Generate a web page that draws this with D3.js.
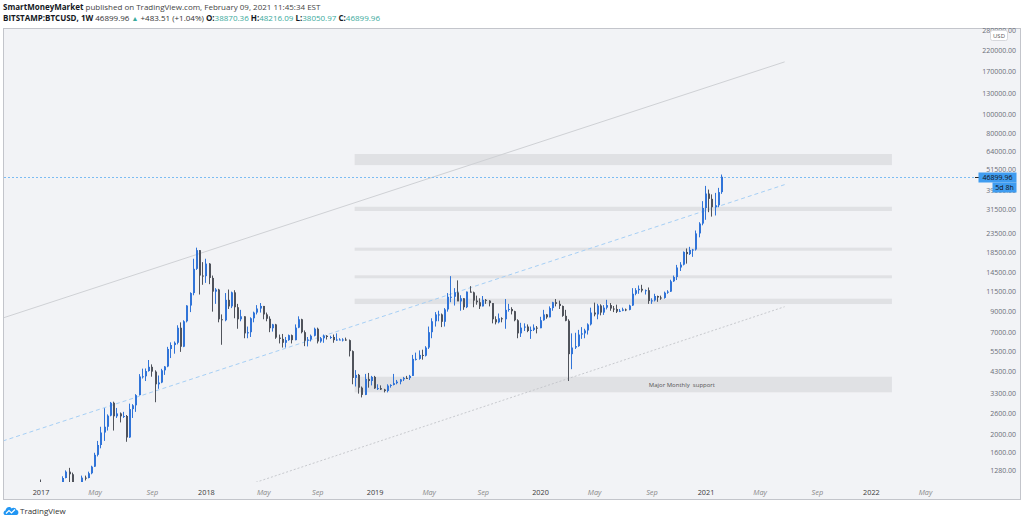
<!DOCTYPE html>
<html><head><meta charset="utf-8">
<script src="https://cdn.jsdelivr.net/npm/d3@7"></script>
<style>
body{margin:0;background:#fff;}
svg{display:block;font-family:"Open Sans",sans-serif;}
</style>
</head><body>
<svg id="c" width="1024" height="521"></svg>
<script>
// ---------------- DATA ----------------
const firstWeek = "2017-01-02"; // weekly bars, Monday open
// [open, high, low, close] per week
const ohlc2017 = [
[963,1153,812,908],[908,911,751,821],[821,935,813,921],[921,930,885,914],[914,1030,912,1017],
[1017,1070,946,999],[999,1065,975,1050],[1050,1200,1050,1175],[1175,1290,1170,1270],[1270,1330,1100,1230],
[1230,1255,950,1020],[1020,1075,890,965],[965,1105,930,1090],[1090,1210,1080,1180],[1180,1210,1140,1175],
[1175,1270,1170,1245],[1245,1365,1230,1350],[1350,1600,1345,1560],[1560,1850,1530,1760],[1760,2200,1690,2050],
[2050,2760,1850,2200],[2200,2560,2100,2520],[2520,2980,2500,2950],[2950,2990,2100,2500],[2500,2770,2450,2590],
[2590,2620,2320,2500],[2500,2640,2450,2510],[2510,2540,1830,1930],[1930,2920,1920,2730],[2730,2900,2450,2860],
[2860,3280,2640,3240],[3240,4190,3230,4070],[4070,4480,3970,4080],[4080,4490,3850,4350],[4350,4980,4320,4580],
[4580,4720,4060,4320],[4320,4390,2970,3700],[3700,4120,3500,3780],[3780,4470,3750,4390],[4390,4620,4150,4600],
[4600,5850,4560,5700],[5700,6180,5100,5980],[5980,6250,5380,6150],[6150,7620,6030,7390],[7390,7890,5500,5860],
[5860,8100,5830,8000],[8000,9740,7890,9700],[9700,11400,8950,11300],[11300,17200,11000,15200],[15200,19700,15000,19100],
[19100,19100,11100,14000],[14000,16500,12500,13900]
];
const ohlc2018 = [
[13900,17200,12800,16200],[16200,16300,12600,13600],[13600,14000,9000,11500],[11500,12000,9900,11800],[11800,11900,7900,8200],
[8200,8700,6000,8100],[8100,11300,8000,10400],[10400,11800,9300,9600],[9600,11500,9400,11400],[11400,11700,8300,9500],
[9500,9900,7300,8200],[8200,9200,8000,8500],[8500,8500,6500,6900],[6900,7500,6500,7000],[7000,8400,6600,8300],
[8300,9000,7900,8900],[8900,9750,8700,9350],[9350,10000,8900,9650],[9650,9650,8200,8700],[8700,8900,8000,8250],
[8250,8500,7000,7350],[7350,7750,7050,7700],[7700,7750,6450,6550],[6550,6800,6100,6450],[6450,6850,5800,6150],
[6150,6600,5800,6350],[6350,6800,6300,6750],[6750,6800,6100,6350],[6350,7700,6340,7400],[7400,8500,7350,8200],
[8200,8250,6900,7000],[7000,7150,5900,6300],[6300,6600,5880,6400],[6400,6800,6250,6700],[6700,7400,6650,7300],
[7300,7400,6100,6250],[6250,6600,6150,6500],[6500,6800,6150,6700],[6700,6750,6400,6600],[6600,6700,6450,6600],
[6600,6800,6150,6350],[6350,6900,6300,6400],[6400,6500,6350,6400],[6400,6500,6250,6400],[6400,6550,6300,6350],
[6350,6400,5200,5550],[5550,5600,3700,4000],[4000,4400,3600,4150],[4150,4200,3300,3550],[3550,3600,3150,3250],
[3250,4200,3240,3950],[3950,4250,3550,3850],[3850,4100,3650,4050]
];
const ohlc2019 = [
[4050,4100,3500,3520],[3520,3700,3450,3530],[3530,3650,3450,3470],[3470,3500,3350,3410],[3410,3700,3350,3640],
[3640,3700,3550,3670],[3670,4200,3650,3750],[3750,3900,3700,3820],[3820,3950,3700,3930],[3930,4050,3850,4000],
[4000,4100,3950,3990],[3990,4150,3900,4100],[4100,5300,4100,5050],[5050,5450,4950,5050],[5050,5600,5000,5300],
[5300,5650,5000,5250],[5250,5900,5200,5800],[5800,7500,5700,7000],[7000,8300,6500,8000],[8000,8950,7500,8700],
[8700,9100,8000,8700],[8700,8800,7450,7950],[7950,9400,7500,9250],[9250,11300,9000,10800],[10800,13900,10100,10800],
[10800,12000,9700,11400],[11400,13200,11000,10200],[10200,11000,9100,10600],[10600,10600,9200,9500],[9500,11500,9400,11500],
[11500,12300,11400,11400],[11400,11500,9500,10300],[10300,10950,9800,10100],[10100,10600,9300,9600],[9600,10900,9600,10400],
[10400,10500,9900,10300],[10300,10350,9600,10000],[10000,10000,7800,8200],[8200,8500,7700,7900],[7900,8800,7800,8300],
[8300,8400,7900,8200],[8200,10500,7300,9200],[9200,9900,9000,9300],[9300,9500,8700,9050],[9050,9100,8000,8100],
[8100,8200,6500,6900],[6900,7850,6600,7400],[7400,7800,7100,7500],[7500,7700,7000,7100],[7100,7500,6450,7200],
[7200,7700,7100,7400],[7400,7550,6900,7350]
];
const ohlc2020 = [
[7350,8450,7350,8100],[8100,9200,8050,8700],[8700,8750,8250,8400],[8400,9600,8400,9400],[9400,10150,9100,10100],
[10100,10500,9600,9900],[9900,10300,9300,9650],[9650,9700,8450,8550],[8550,9200,8000,8050],[8050,8200,3850,5350],
[5350,6900,4450,5800],[5800,6950,5700,5900],[5900,7200,5850,6800],[6800,7450,6450,6900],[6900,7300,6500,7150],
[7150,7800,6800,7700],[7700,9450,7600,8900],[8900,10050,8500,8700],[8700,9900,8200,9700],[9700,9850,8600,8900],
[8900,9750,8650,9450],[9450,10400,9250,9750],[9750,10000,9100,9350],[9350,9650,8950,9300],[9300,9800,8850,9000],
[9000,9300,8950,9100],[9100,9450,9050,9250],[9250,9350,9050,9200],[9200,9800,9150,9700],[9700,12000,9650,11200],
[11200,12000,11000,11700],[11700,12400,11200,11900],[11900,12500,11400,11650],[11650,11800,11100,11700],[11700,12100,9900,10250],
[10250,10600,9900,10330],[10330,11200,10200,10900],[10900,10950,10150,10700],[10700,10950,10400,10650],[10650,11500,10550,11350],
[11350,11700,11200,11500],[11500,13300,11450,13050],[13050,14000,12950,13750],[13750,15950,13250,15450],[15450,16500,14800,16000],
[16000,18800,15850,18700],[18700,19500,16200,18200],[18200,19900,18000,19150],[19150,19400,17600,19250],[19250,24300,19000,23450],
[23450,26900,22350,26450],[26450,34800,25900,32000]
];
const ohlc2021 = [
[32000,41950,27700,38200],[38200,40100,30400,35800],[35800,37800,28800,32300],[32300,38500,29200,33100],[33100,40950,32300,38870.36],
[38870.36,48216.09,38050.97,46899.96]
];

const priceTicks = [280000,220000,170000,130000,100000,80000,64000,51500,39500,31500,23500,18500,14500,11500,9000,7000,5500,4300,3300,2600,2000,1600,1280];
const timeTickDates = ["2017-01-02","2017-05-01","2017-09-04","2018-01-01","2018-05-07","2018-09-03","2019-01-07","2019-05-06","2019-09-02","2020-01-06","2020-05-04","2020-09-07","2021-01-04","2021-05-03","2021-09-06","2022-01-03","2022-05-02"];
const timeTickLabels = ["2017","May","Sep","2018","May","Sep","2019","May","Sep","2020","May","Sep","2021","May","Sep","2022","May"];

// horizontal zones [low, high], drawn from zoneStart to zoneEnd
const zoneStart = "2018-11-23", zoneEnd = "2022-02-17";
const zones = [[54100,62000],[30850,32500],[18970,19700],[13540,14040],[9880,10550],[3354,4060]];
const zoneNote = {text:"Major Monthly  support", date:"2020-11-12", price:3690};

// trend lines: [[date, price],[date, price]]
const upperLine = [["2016-10-10",8325],["2021-06-26",191400]];
const midLine   = [["2016-10-10",1848],["2021-06-26",42600]];
const lowerLine = [["2018-02-20",1000],["2021-06-26",9560]];

const lastPrice = 46899.96;
const header1 = ["SmartMoneyMarket"," published on TradingView.com, February 09, 2021 11:45:34 EST"];
const header2 = {sym:"BITSTAMP:BTCUSD, 1W", last:"46899.96", chg:"+483.51 (+1.04%)", o:"38870.36", h:"48216.09", l:"38050.97", c:"46899.96"};

// ---------------- DRAW ----------------
const parse = d3.utcParse("%Y-%m-%d");
const svg = d3.select("#c");
const frame = {l:3.5, t:28.5, r:1020.5, b:499.5};
const plot = {l:4, t:29, r:975, b:482};

const bars = [].concat(ohlc2017, ohlc2018, ohlc2019, ohlc2020, ohlc2021)
  .map((d,i)=>({date:d3.utcMonday.offset(parse(firstWeek), i), o:d[0], h:d[1], l:d[2], c:d[3]}));

const x = d3.scaleUtc().domain([parse("2017-01-02"), parse("2021-01-04")]).range([41, 706]);
const y = d3.scaleLog().domain([1280, 220000]).range([471, 50.5]);

svg.append("rect").attr("x",0).attr("y",0).attr("width",1024).attr("height",521).attr("fill","#fff");
svg.append("rect").attr("x",frame.l).attr("y",frame.t).attr("width",frame.r-frame.l).attr("height",frame.b-frame.t)
  .attr("fill","#f2f3f6").attr("stroke","#c3c5cb").attr("stroke-width",1);

svg.append("clipPath").attr("id","pc").append("rect")
  .attr("x",plot.l).attr("y",plot.t).attr("width",plot.r-plot.l).attr("height",plot.b-plot.t);
const g = svg.append("g").attr("clip-path","url(#pc)");

// zones
g.selectAll("rect.zone").data(zones).join("rect").attr("class","zone")
  .attr("x", x(parse(zoneStart))).attr("width", x(parse(zoneEnd)) - x(parse(zoneStart)))
  .attr("y", d=>y(d[1])).attr("height", d=>y(d[0]) - y(d[1]))
  .attr("fill","#e0e1e4");
g.append("text").attr("x", x(parse(zoneNote.date))).attr("y", y(zoneNote.price))
  .attr("dy","0.35em").attr("text-anchor","middle").attr("font-size",6).attr("fill","#555")
  .style("white-space","pre").text(zoneNote.text);

// trend lines
function tline(pts, color, dash, op){
  g.append("line")
    .attr("x1", x(parse(pts[0][0]))).attr("y1", y(pts[0][1]))
    .attr("x2", x(parse(pts[1][0]))).attr("y2", y(pts[1][1]))
    .attr("stroke", color).attr("stroke-width",1).attr("stroke-dasharray",dash).attr("opacity",op);
}
tline(upperLine, "#cfd1d5", null, 1);
tline(lowerLine, "#c4c6cb", "2,2", 0.9);
tline(midLine, "#a6cff5", "4,3", 1);

// price line
g.append("line").attr("x1",plot.l).attr("x2",plot.r)
  .attr("y1", Math.round(y(lastPrice))+0.5).attr("y2", Math.round(y(lastPrice))+0.5)
  .attr("stroke","#7cbcf3").attr("stroke-width",1).attr("stroke-dasharray","2,2");

// candles
const up = "#3174d8", dn = "#50535b";
const cg = g.append("g");
bars.forEach(b=>{
  const cx = Math.round(x(b.date));
  const col = b.c >= b.o ? up : dn;
  cg.append("line").attr("x1",cx-0.5).attr("x2",cx-0.5)
    .attr("y1",y(b.h)).attr("y2",y(b.l)).attr("stroke",col).attr("stroke-width",1);
  const yt = y(Math.max(b.o,b.c)), yb = y(Math.min(b.o,b.c));
  cg.append("rect").attr("x",cx-1).attr("width",2)
    .attr("y",yt).attr("height",Math.max(1,yb-yt)).attr("fill",col);
});

// price axis labels
const axG = svg.append("g").attr("font-size",7).attr("fill","#6b6e78");
axG.selectAll("text").data(priceTicks).join("text")
  .attr("x",1016).attr("y",d=>y(d)).attr("dy","0.35em").attr("text-anchor","end")
  .text(d=>d3.format(".2f")(d));

// USD badge
svg.append("rect").attr("x",990.5).attr("y",30.5).attr("width",17).attr("height",10).attr("rx",2)
  .attr("fill","#fff").attr("stroke","#d6d8dc");
svg.append("text").attr("x",999).attr("y",35.5).attr("dy","0.35em").attr("text-anchor","middle")
  .attr("font-size",6).attr("fill","#555").text("USD");

// last price label
const ly = Math.round(y(lastPrice));
svg.append("line").attr("x1",975).attr("x2",979).attr("y1",ly+0.5).attr("y2",ly+0.5).attr("stroke","#222");
svg.append("rect").attr("x",978.5).attr("y",ly-4.5).attr("width",38).attr("height",10).attr("fill","#3f9cf0");
svg.append("text").attr("x",997.5).attr("y",ly+0.5).attr("dy","0.35em").attr("text-anchor","middle")
  .attr("font-size",7).attr("fill","#111").text(d3.format(".2f")(lastPrice));
svg.append("rect").attr("x",992.5).attr("y",ly+5.5).attr("width",24).attr("height",10).attr("fill","#3f9cf0");
svg.append("text").attr("x",1004.5).attr("y",ly+10.5).attr("dy","0.35em").attr("text-anchor","middle")
  .attr("font-size",7).attr("fill","#111").text("5d 8h");

// time axis
const tG = svg.append("g").attr("font-size",7.3);
tG.selectAll("text").data(timeTickDates).join("text")
  .attr("x",d=>x(parse(d))).attr("y",494.5).attr("text-anchor","middle")
  .attr("fill",(d,i)=>/^\d/.test(timeTickLabels[i]) ? "#3a3a3a" : "#8a8a8a")
  .attr("font-style",(d,i)=>/^\d/.test(timeTickLabels[i]) ? "normal" : "italic")
  .text((d,i)=>timeTickLabels[i]);

// header
const h1 = svg.append("text").attr("x",3).attr("y",10).attr("font-size",8);
h1.append("tspan").attr("font-weight","bold").attr("fill","#131722").text(header1[0]);
h1.append("tspan").attr("fill","#444").text(header1[1]);
const teal = "#3aaa9c";
const h2 = svg.append("text").attr("x",3).attr("y",20.5).attr("font-size",8).attr("fill","#333").style("white-space","pre");
h2.append("tspan").attr("font-weight","bold").attr("fill","#131722").text(header2.sym + " ");
h2.append("tspan").text(header2.last + " ");
h2.append("tspan").attr("fill",teal).attr("font-size",7).text("▲");
h2.append("tspan").text(" " + header2.chg + " ");
[["O:",header2.o],["H:",header2.h],["L:",header2.l],["C:",header2.c]].forEach(p=>{
  h2.append("tspan").attr("font-weight","bold").attr("fill","#131722").text(p[0]);
  h2.append("tspan").attr("fill",teal).text(p[1] + " ");
});

// footer logo
const lg = svg.append("g").attr("transform","translate(3,505)");
lg.append("path").attr("d","M2,10 C0,10 0,6 2.5,5.5 C3,2 7,1 8.5,3.5 C10,2 13,2.5 13.5,5 C16,5 16,10 13.5,10 Z").attr("fill","#2196f3");
lg.append("path").attr("d","M3,8.5 L6,5.5 L8.5,8 L12,4.5").attr("fill","none").attr("stroke","#fff").attr("stroke-width",1.2);
svg.append("text").attr("x",20).attr("y",514).attr("font-size",8).attr("fill","#333").text("TradingView");
</script>
</body></html>
